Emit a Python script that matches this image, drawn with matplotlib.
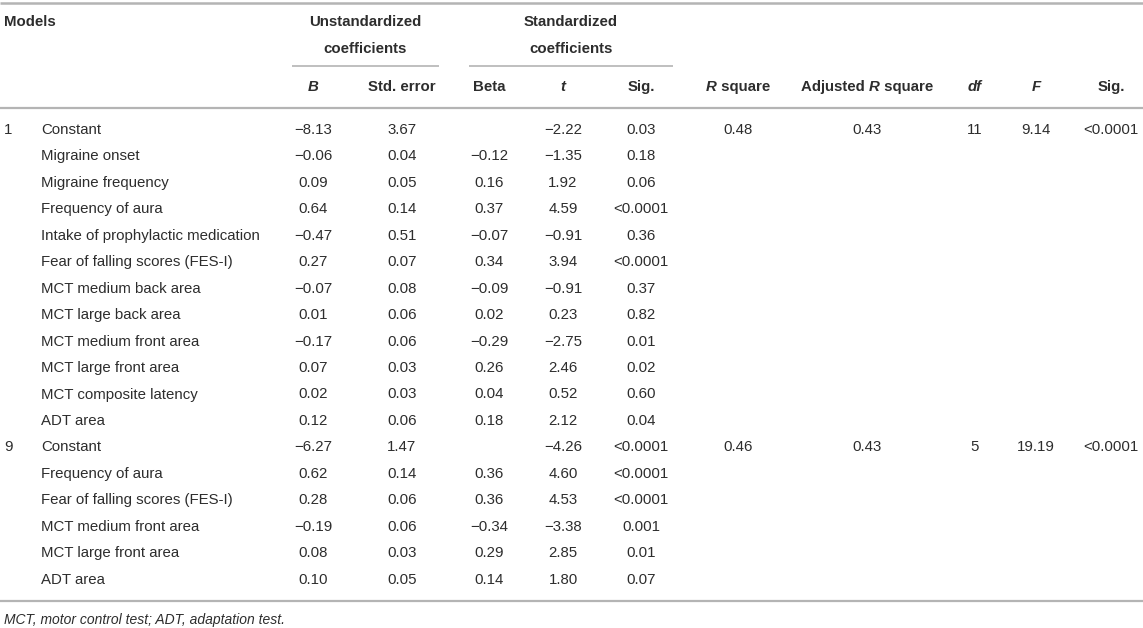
import matplotlib
matplotlib.use("Agg")
import matplotlib.pyplot as plt

# ---------------- data ----------------
model_ids = ["1", "9"]

m1_vars = ["Constant", "Migraine onset", "Migraine frequency", "Frequency of aura",
           "Intake of prophylactic medication", "Fear of falling scores (FES-I)",
           "MCT medium back area", "MCT large back area", "MCT medium front area",
           "MCT large front area", "MCT composite latency", "ADT area"]
m1_B = ["\u22128.13", "\u22120.06", "0.09", "0.64", "\u22120.47", "0.27", "\u22120.07",
        "0.01", "\u22120.17", "0.07", "0.02", "0.12"]
m1_SE = ["3.67", "0.04", "0.05", "0.14", "0.51", "0.07", "0.08", "0.06", "0.06",
         "0.03", "0.03", "0.06"]
m1_beta = ["", "\u22120.12", "0.16", "0.37", "\u22120.07", "0.34", "\u22120.09", "0.02",
           "\u22120.29", "0.26", "0.04", "0.18"]
m1_t = ["\u22122.22", "\u22121.35", "1.92", "4.59", "\u22120.91", "3.94", "\u22120.91",
        "0.23", "\u22122.75", "2.46", "0.52", "2.12"]
m1_sig = ["0.03", "0.18", "0.06", "<0.0001", "0.36", "<0.0001", "0.37", "0.82",
          "0.01", "0.02", "0.60", "0.04"]
m1_stats = ["0.48", "0.43", "11", "9.14", "<0.0001"]

m9_vars = ["Constant", "Frequency of aura", "Fear of falling scores (FES-I)",
           "MCT medium front area", "MCT large front area", "ADT area"]
m9_B = ["\u22126.27", "0.62", "0.28", "\u22120.19", "0.08", "0.10"]
m9_SE = ["1.47", "0.14", "0.06", "0.06", "0.03", "0.05"]
m9_beta = ["", "0.36", "0.36", "\u22120.34", "0.29", "0.14"]
m9_t = ["\u22124.26", "4.60", "4.53", "\u22123.38", "2.85", "1.80"]
m9_sig = ["<0.0001", "<0.0001", "<0.0001", "0.001", "0.01", "0.07"]
m9_stats = ["0.46", "0.43", "5", "19.19", "<0.0001"]

group_headers = ["Unstandardized\ncoefficients", "Standardized\ncoefficients"]
# column headers: list of (text, italic) pieces
col_headers = [
    [("B", True)],
    [("Std. error", False)],
    [("Beta", False)],
    [("t", True)],
    [("Sig.", False)],
    [("R", True), (" square", False)],
    [("Adjusted ", False), ("R", True), (" square", False)],
    [("df", True)],
    [("F", True)],
    [("Sig.", False)],
]
footnote = "MCT, motor control test; ADT, adaptation test."

# ---------------- layout ----------------
W, H = 1143, 628
FONT = "Liberation Sans"
FS = 10.8
TXT = "#2d2d2d"
LINE = "#b4b4b4"

col_x = [313, 402, 489, 563, 641, 738, 867, 975, 1036, 1111]
x_model = 4
x_var = 41
row_y0 = 130
row_dy = 26.45

fig = plt.figure(figsize=(W / 100, H / 100), dpi=100)
ax = fig.add_axes([0, 0, 1, 1])
ax.set_xlim(0, W)
ax.set_ylim(H, 0)
ax.axis("off")

def txt(x, y, s, ha="center", bold=False, italic=False, size=FS):
    return ax.text(x, y, s, ha=ha, va="center", fontsize=size, family=FONT,
                   color=TXT, fontweight="bold" if bold else "normal",
                   fontstyle="italic" if italic else "normal")

# horizontal rules
ax.plot([0, W], [3, 3], color=LINE, lw=1.8, solid_capstyle="butt")
ax.plot([0, W], [107.5, 107.5], color=LINE, lw=1.6, solid_capstyle="butt")
ax.plot([0, W], [601, 601], color=LINE, lw=1.6, solid_capstyle="butt")
ax.plot([292, 439], [66, 66], color=LINE, lw=1.2, solid_capstyle="butt")
ax.plot([469, 673], [66, 66], color=LINE, lw=1.2, solid_capstyle="butt")

# top headers
txt(x_model, 22, "Models", ha="left", bold=True)
for cx, gh in zip([365.5, 571], group_headers):
    l1, l2 = gh.split("\n")
    txt(cx, 22, l1, bold=True)
    txt(cx, 49, l2, bold=True)

# column headers with mixed italic pieces
fig.canvas.draw()
renderer = fig.canvas.get_renderer()
inv = ax.transData.inverted()
for cx, pieces in zip(col_x, col_headers):
    objs = []
    widths = []
    for s, it in pieces:
        t = txt(0, 87, s, ha="left", bold=True, italic=it)
        bb = t.get_window_extent(renderer=renderer)
        objs.append(t)
        widths.append(bb.width)
    total = sum(widths)
    x = cx - total / 2
    for t, w in zip(objs, widths):
        t.set_x(x)
        x += w

# body rows
def draw_model(idx0, mid, names, B, SE, beta, tv, sig, stats):
    for i, name in enumerate(names):
        y = row_y0 + (idx0 + i) * row_dy
        if i == 0:
            txt(x_model, y, mid, ha="left")
            for cx, v in zip(col_x[5:], stats):
                txt(cx, y, v)
        txt(x_var, y, name, ha="left")
        for cx, v in zip(col_x[:5], [B[i], SE[i], beta[i], tv[i], sig[i]]):
            if v:
                txt(cx, y, v)

draw_model(0, model_ids[0], m1_vars, m1_B, m1_SE, m1_beta, m1_t, m1_sig, m1_stats)
draw_model(len(m1_vars), model_ids[1], m9_vars, m9_B, m9_SE, m9_beta, m9_t, m9_sig, m9_stats)

txt(x_model, 620, footnote, ha="left", italic=True, size=FS * 0.93)

fig.savefig("out.png", dpi=100)
